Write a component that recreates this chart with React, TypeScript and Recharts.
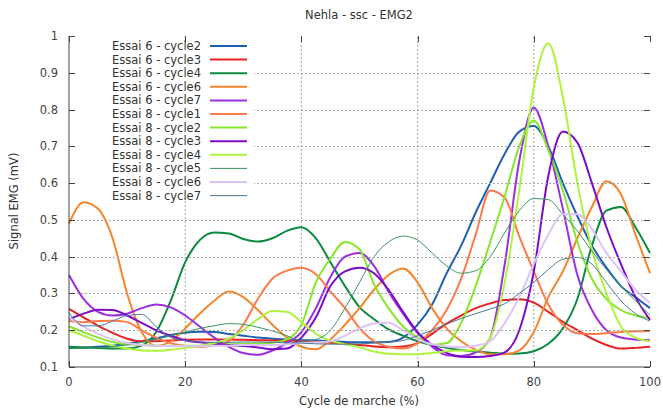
import React from 'react';
import { LineChart, Line, XAxis, YAxis, ReferenceLine } from 'recharts';

// % of gait cycle, sampled every 2.5 %
const CYCLE = [
  0, 2.5, 5, 7.5, 10, 12.5, 15, 17.5, 20, 22.5, 25, 27.5, 30, 32.5, 35, 37.5, 40, 42.5, 45, 47.5,
  50, 52.5, 55, 57.5, 60, 62.5, 65, 67.5, 70, 72.5, 75, 77.5, 80, 82.5, 85, 87.5, 90, 92.5, 95, 97.5, 100,
];

// EMG signal (mV)
const E6_C2 = [
  0.152, 0.153, 0.155, 0.158, 0.163, 0.17, 0.178, 0.187, 0.193, 0.196, 0.195, 0.19, 0.185, 0.18, 0.177, 0.175, 0.173, 0.172, 0.17, 0.168,
  0.167, 0.167, 0.168, 0.18, 0.215, 0.27, 0.355, 0.43, 0.52, 0.6, 0.68, 0.74, 0.755, 0.7, 0.6, 0.51, 0.43, 0.37, 0.32, 0.29, 0.26,
];
const E6_C3 = [
  0.258, 0.235, 0.212, 0.193, 0.177, 0.17, 0.17, 0.172, 0.174, 0.175, 0.175, 0.175, 0.174, 0.173, 0.172, 0.171, 0.17, 0.168, 0.166, 0.163,
  0.16, 0.156, 0.154, 0.156, 0.165, 0.19, 0.218, 0.24, 0.26, 0.273, 0.282, 0.284, 0.275, 0.25, 0.223, 0.2, 0.177, 0.16, 0.15, 0.152, 0.155,
];
const E6_C4 = [
  0.155, 0.153, 0.152, 0.15, 0.15, 0.158, 0.195, 0.28, 0.385, 0.445, 0.466, 0.463, 0.448, 0.441, 0.45, 0.47, 0.48, 0.45, 0.385, 0.32,
  0.263, 0.23, 0.202, 0.185, 0.17, 0.16, 0.152, 0.146, 0.142, 0.139, 0.136, 0.137, 0.143, 0.163, 0.205, 0.285, 0.43, 0.525, 0.535, 0.48, 0.41,
];
const E6_C6 = [
  0.49, 0.548, 0.53, 0.45, 0.3, 0.195, 0.157, 0.17, 0.205, 0.245, 0.28, 0.305, 0.29, 0.255, 0.215, 0.18, 0.155, 0.148, 0.175, 0.215,
  0.26, 0.31, 0.35, 0.368, 0.33, 0.26, 0.205, 0.17, 0.147, 0.135, 0.135, 0.145, 0.195, 0.29, 0.36, 0.45, 0.535, 0.605, 0.57, 0.46, 0.355,
];
const E6_C7 = [
  0.35, 0.285, 0.25, 0.24, 0.245, 0.26, 0.27, 0.262, 0.24, 0.21, 0.18, 0.155, 0.138, 0.133, 0.145, 0.165, 0.195, 0.26, 0.345, 0.4,
  0.41, 0.375, 0.305, 0.245, 0.192, 0.155, 0.132, 0.13, 0.14, 0.18, 0.38, 0.66, 0.805, 0.7, 0.53, 0.35, 0.255, 0.2, 0.18, 0.175, 0.173,
];
const E8_C1 = [
  0.225, 0.222, 0.225, 0.226, 0.222, 0.2, 0.18, 0.165, 0.158, 0.155, 0.16, 0.17, 0.215, 0.285, 0.34, 0.362, 0.37, 0.352, 0.305, 0.26,
  0.206, 0.17, 0.155, 0.15, 0.165, 0.2, 0.255, 0.34, 0.46, 0.58, 0.56, 0.455, 0.36, 0.27, 0.215, 0.192, 0.19, 0.192, 0.195, 0.197, 0.198,
];
const E8_C2 = [
  0.21, 0.195, 0.18, 0.168, 0.162, 0.16, 0.158, 0.158, 0.158, 0.158, 0.16, 0.162, 0.163, 0.164, 0.166, 0.175, 0.215, 0.33, 0.395, 0.44,
  0.42, 0.325, 0.26, 0.21, 0.18, 0.16, 0.165, 0.22, 0.32, 0.44, 0.565, 0.7, 0.77, 0.69, 0.58, 0.44, 0.34, 0.285, 0.255, 0.24, 0.233,
];
const E8_C3 = [
  0.23, 0.245, 0.256, 0.255, 0.24, 0.22, 0.2, 0.185, 0.173, 0.167, 0.163, 0.16, 0.157, 0.153, 0.148, 0.15, 0.18, 0.235, 0.32, 0.36,
  0.37, 0.355, 0.31, 0.25, 0.195, 0.16, 0.138, 0.128, 0.127, 0.13, 0.14, 0.2, 0.36, 0.62, 0.74, 0.71, 0.6, 0.48, 0.38, 0.29, 0.228,
];
const E8_C4 = [
  0.2, 0.185, 0.17, 0.158, 0.15, 0.145, 0.144, 0.147, 0.152, 0.158, 0.165, 0.177, 0.2, 0.23, 0.252, 0.25, 0.222, 0.19, 0.172, 0.162,
  0.154, 0.142, 0.136, 0.135, 0.135, 0.138, 0.143, 0.145, 0.145, 0.18, 0.33, 0.58, 0.86, 0.98, 0.834, 0.6, 0.42, 0.3, 0.21, 0.18, 0.17,
];
const E8_C5 = [
  0.15, 0.151, 0.152, 0.155, 0.16, 0.167, 0.175, 0.185, 0.195, 0.205, 0.212, 0.218, 0.216, 0.208, 0.198, 0.185, 0.17, 0.175, 0.2, 0.26,
  0.33, 0.4, 0.44, 0.456, 0.445, 0.41, 0.375, 0.355, 0.362, 0.4, 0.465, 0.525, 0.558, 0.555, 0.515, 0.47, 0.415, 0.365, 0.32, 0.28, 0.241,
];
const E8_C6 = [
  0.235, 0.21, 0.19, 0.175, 0.165, 0.16, 0.158, 0.157, 0.157, 0.157, 0.158, 0.158, 0.16, 0.16, 0.16, 0.162, 0.165, 0.167, 0.17, 0.185,
  0.205, 0.218, 0.22, 0.2, 0.175, 0.162, 0.156, 0.154, 0.158, 0.17, 0.22, 0.29, 0.38, 0.46, 0.515, 0.515, 0.475, 0.41, 0.36, 0.31, 0.274,
];
const E8_C7 = [
  0.248, 0.212, 0.212, 0.225, 0.24, 0.243, 0.21, 0.18, 0.172, 0.168, 0.167, 0.167, 0.168, 0.168, 0.167, 0.166, 0.165, 0.163, 0.162, 0.162,
  0.163, 0.165, 0.168, 0.172, 0.185, 0.2, 0.217, 0.232, 0.245, 0.258, 0.272, 0.3, 0.33, 0.365, 0.393, 0.398, 0.38, 0.33, 0.28, 0.245, 0.225,
];

const X_TICKS = [0, 20, 40, 60, 80, 100];
const Y_TICKS = [0.1, 0.2, 0.3, 0.4, 0.5, 0.6, 0.7, 0.8, 0.9, 1];

const SERIES = [
  { key: 'e6c2', name: 'Essai 6 - cycle2', values: E6_C2, color: '#2060b0', width: 2 },
  { key: 'e6c3', name: 'Essai 6 - cycle3', values: E6_C3, color: '#e82222', width: 2 },
  { key: 'e6c4', name: 'Essai 6 - cycle4', values: E6_C4, color: '#0d8a42', width: 2 },
  { key: 'e6c6', name: 'Essai 6 - cycle6', values: E6_C6, color: '#f5842a', width: 2 },
  { key: 'e6c7', name: 'Essai 6 - cycle7', values: E6_C7, color: '#9b2fe0', width: 2 },
  { key: 'e8c1', name: 'Essai 8 - cycle1', values: E8_C1, color: '#ff7a4a', width: 2 },
  { key: 'e8c2', name: 'Essai 8 - cycle2', values: E8_C2, color: '#86e82c', width: 2 },
  { key: 'e8c3', name: 'Essai 8 - cycle3', values: E8_C3, color: '#7d0cc8', width: 2 },
  { key: 'e8c4', name: 'Essai 8 - cycle4', values: E8_C4, color: '#adf53c', width: 2 },
  { key: 'e8c5', name: 'Essai 8 - cycle5', values: E8_C5, color: '#3a9563', width: 1 },
  { key: 'e8c6', name: 'Essai 8 - cycle6', values: E8_C6, color: '#dcc4f8', width: 2 },
  { key: 'e8c7', name: 'Essai 8 - cycle7', values: E8_C7, color: '#4a7a9c', width: 1 },
];

const data = CYCLE.map((x, i) => {
  const row: Record<string, number> = { x };
  SERIES.forEach((s) => { row[s.key] = s.values[i]; });
  return row;
});

const W = 663;
const H = 415;
const MARGIN = { top: 36, right: 13, left: 0, bottom: 0 };
const Y_AXIS_W = 69;
const X_AXIS_H = 48;
// plot frame, derived from the chart margins above
const P_LEFT = MARGIN.left + Y_AXIS_W;
const P_RIGHT = W - MARGIN.right;
const P_TOP = MARGIN.top;
const P_BOTTOM = H - MARGIN.bottom - X_AXIS_H;
const Y_MIN = Y_TICKS[0];
const Y_MAX = Y_TICKS[Y_TICKS.length - 1];
const X_MIN = X_TICKS[0];
const X_MAX = X_TICKS[X_TICKS.length - 1];
const yPx = (v: number) => Math.round(P_TOP + ((Y_MAX - v) / (Y_MAX - Y_MIN)) * (P_BOTTOM - P_TOP)) + 0.5;
const xPx = (v: number) => Math.round(P_LEFT + ((v - X_MIN) / (X_MAX - X_MIN)) * (P_RIGHT - P_LEFT)) + 0.5;

const FONT = '"DejaVu Sans", Verdana, sans-serif';
const AXIS = '#444';
const TXT = '#444';
const GRID = '#a8a8a8';
const TICK_LEN = 6;

const BottomTick = (p: any) => (
  <text x={p.x} y={p.y + 19} textAnchor="middle" fontSize={11.5} fill={TXT} fontFamily={FONT}>
    {p.payload.value}
  </text>
);
const LeftTick = (p: any) => (
  <text x={p.x - 11} y={p.y + 4} textAnchor="end" fontSize={11.5} fill={TXT} fontFamily={FONT}>
    {String(p.payload.value)}
  </text>
);

export default function App() {
  return (
    <div style={{ position: 'absolute', left: 0, top: 0, width: W, height: H, background: '#fff' }}>
      <LineChart width={W} height={H} data={data} margin={MARGIN}>
        <XAxis
          dataKey="x"
          type="number"
          domain={[X_MIN, X_MAX]}
          ticks={X_TICKS}
          height={X_AXIS_H}
          tickSize={0}
          tickMargin={0}
          tick={BottomTick}
          axisLine={{ stroke: AXIS }}
          interval={0}
        />
        <XAxis
          xAxisId="top"
          orientation="top"
          dataKey="x"
          type="number"
          domain={[X_MIN, X_MAX]}
          height={0}
          tick={false}
          tickLine={false}
          axisLine={{ stroke: AXIS }}
        />
        <YAxis
          type="number"
          domain={[Y_MIN, Y_MAX]}
          ticks={Y_TICKS}
          width={Y_AXIS_W}
          tickSize={0}
          tickMargin={0}
          tick={LeftTick}
          axisLine={{ stroke: AXIS }}
          allowDataOverflow
          interval={0}
        />
        <YAxis
          yAxisId="right"
          orientation="right"
          type="number"
          domain={[Y_MIN, Y_MAX]}
          width={0}
          tick={false}
          tickLine={false}
          axisLine={{ stroke: AXIS }}
          allowDataOverflow
        />
        {X_TICKS.slice(1, -1).map((v) => (
          <ReferenceLine key={`gx${v}`} x={v} stroke={GRID} strokeDasharray="2 2" />
        ))}
        {SERIES.map((s) => (
          <Line
            key={s.key}
            dataKey={s.key}
            name={s.name}
            type="monotone"
            stroke={s.color}
            strokeWidth={s.width}
            dot={false}
            activeDot={false}
            isAnimationActive={false}
          />
        ))}
      </LineChart>
      <svg
        width={W}
        height={H}
        style={{ position: 'absolute', left: 0, top: 0, pointerEvents: 'none' }}
        fontFamily={FONT}
      >
        {/* horizontal dotted grid and inward ticks on the frame */}
        {Y_TICKS.slice(1, -1).map((v) => (
          <line
            key={`g${v}`}
            x1={P_LEFT}
            x2={P_RIGHT}
            y1={yPx(v)}
            y2={yPx(v)}
            stroke={GRID}
            strokeDasharray="2 2"
            shapeRendering="crispEdges"
          />
        ))}
        {Y_TICKS.map((v) => (
          <g key={`t${v}`} shapeRendering="crispEdges">
            <line x1={P_LEFT} x2={P_LEFT + TICK_LEN} y1={yPx(v)} y2={yPx(v)} stroke={AXIS} />
            <line x1={P_RIGHT} x2={P_RIGHT - TICK_LEN} y1={yPx(v)} y2={yPx(v)} stroke={AXIS} />
          </g>
        ))}
        {X_TICKS.map((v) => (
          <g key={`x${v}`} shapeRendering="crispEdges">
            <line x1={xPx(v)} x2={xPx(v)} y1={P_BOTTOM} y2={P_BOTTOM - TICK_LEN} stroke={AXIS} />
            <line x1={xPx(v)} x2={xPx(v)} y1={P_TOP} y2={P_TOP + TICK_LEN} stroke={AXIS} />
          </g>
        ))}
        <text x={359} y={19} textAnchor="middle" fontSize={11.5} fill="#333">
          Nehla - ssc - EMG2
        </text>
        <text x={359} y={405} textAnchor="middle" fontSize={11.5} fill="#333">
          Cycle de marche (%)
        </text>
        <text
          x={0}
          y={0}
          transform="translate(18 201) rotate(-90)"
          textAnchor="middle"
          fontSize={11.5}
          fill="#333"
        >
          Signal EMG (mV)
        </text>
        <rect x={76} y={42} width={178} height={156} fill="#fff" />
        {SERIES.map((s, i) => {
          const cy = 46 + i * 13.6;
          return (
            <g key={s.key}>
              <text x={201} y={cy + 4} textAnchor="end" fontSize={11.5} fill="#333">
                {s.name}
              </text>
              <line x1={210} x2={247} y1={cy} y2={cy} stroke={s.color} strokeWidth={s.width} />
            </g>
          );
        })}
      </svg>
    </div>
  );
}
